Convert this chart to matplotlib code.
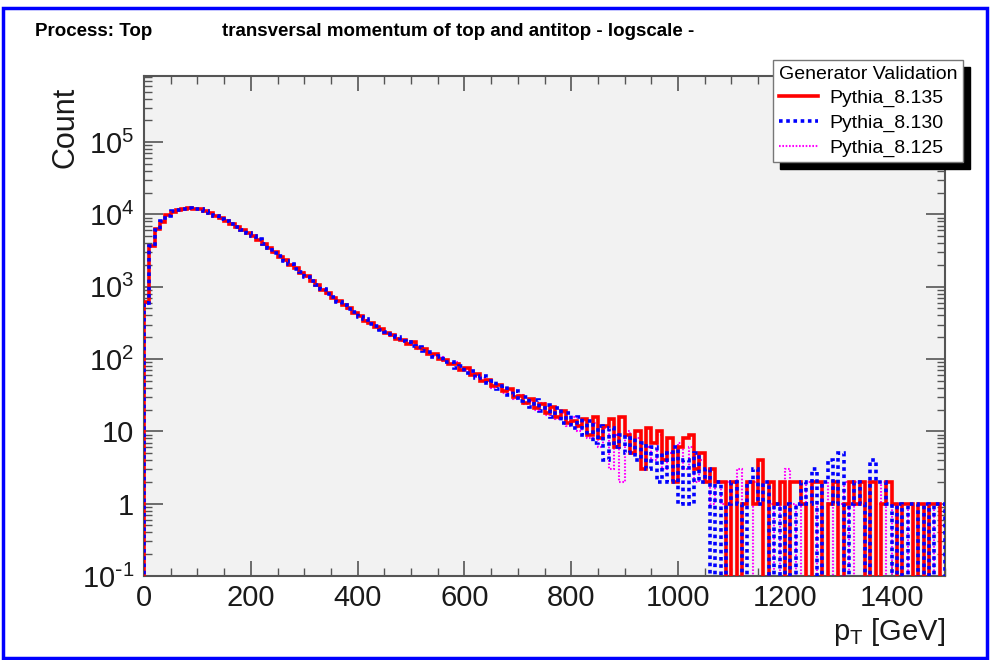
import numpy as np
import matplotlib
matplotlib.use("Agg")
import matplotlib.pyplot as plt
from matplotlib.patches import Rectangle
from matplotlib.ticker import FixedLocator, MultipleLocator, LogLocator, NullFormatter

plt.rcParams['font.family'] = ['Liberation Sans', 'DejaVu Sans']

# ==== histogram setup ====
pt_min = 0
pt_max = 1500
bin_width = 10
edges = np.arange(pt_min, pt_max + bin_width, bin_width)

labels = ["Pythia_8.135", "Pythia_8.130", "Pythia_8.125"]

# ==== bin contents, 10 GeV bins ====
pythia_8135 = [
    610, 3600, 6200, 7900, 9700, 10900, 11650, 12000, 12150, 11950, 11720, 11180, 10500, 9530,
    8790, 8020, 7420, 6700, 6130, 5520, 5050, 4470, 3930, 3380, 2980, 2580, 2320, 2010,
    1800, 1570, 1390, 1190, 1060, 910, 810, 690, 630, 550, 500, 430, 395, 340,
    318, 276, 262, 228, 214, 192, 186, 163, 170, 140, 136, 118, 116, 100,
    98, 84, 86, 70, 76, 60, 62, 50, 52, 42, 44, 36, 38, 30,
    31, 25, 28, 21, 24, 18, 22, 16, 19, 13, 14, 12, 15, 9,
    16, 8, 12, 15, 6, 16, 9, 5, 10, 3, 11, 7,
    10, 4, 8, 2, 6, 8, 9, 3, 5, 2, 3, 2,
    2, 0, 2, 0, 1, 2, 1, 4, 0, 2, 1, 2, 0, 2,
    2, 1, 0, 2, 2, 0, 1, 2, 0, 1, 2, 1, 2, 0,
    2, 0, 1, 2, 1, 0, 1, 1, 0, 1, 0, 1, 1, 0,
]
pythia_8130 = [
    590, 3650, 6150, 7980, 9620, 11000, 11580, 12050, 12080, 12000, 11680, 11250, 10440, 9580,
    8750, 8080, 7380, 6760, 6090, 5560, 5010, 4510, 3890, 3420, 2940, 2620, 2280, 2050,
    1780, 1600, 1370, 1210, 1040, 930, 790, 710, 615, 565, 485, 445, 380, 352,
    305, 290, 250, 240, 205, 200, 176, 172, 150, 148, 128, 126, 108, 110,
    90, 92, 76, 80, 64, 68, 54, 58, 46, 50, 38, 42, 32, 36,
    26, 30, 22, 27, 19, 23, 16, 21, 13, 18, 11, 16, 9, 14,
    7, 12, 4, 11, 6, 9, 5, 8, 4, 7, 3, 6,
    2, 5, 2, 6, 1, 4, 1, 5, 2, 3, 0, 2,
    0, 1, 2, 1, 0, 2, 3, 1, 2, 0, 1, 0, 1, 0,
    1, 2, 1, 3, 0, 2, 4, 1, 5, 0, 1, 2, 1, 0,
    4, 2, 2, 1, 0, 1, 0, 1, 1, 0, 1, 0, 1, 1,
]
pythia_8125 = [
    580, 3620, 6190, 7920, 9680, 10940, 11630, 11990, 12130, 11940, 11710, 11200, 10490, 9540,
    8760, 8060, 7410, 6720, 6120, 5530, 5040, 4480, 3920, 3400, 2950, 2610, 2290, 2040,
    1790, 1580, 1380, 1200, 1055, 915, 800, 705, 620, 550, 495, 435, 392, 342,
    315, 280, 258, 230, 210, 198, 178, 168, 156, 138, 134, 120, 110, 106,
    94, 86, 90, 72, 70, 64, 56, 54, 48, 40, 44, 34, 36, 28,
    32, 24, 26, 20, 25, 17, 20, 15, 18, 12, 16, 10, 14, 8,
    13, 6, 11, 3, 9, 2, 10, 5, 8, 3, 6, 4,
    9, 3, 5, 2, 7, 3, 6, 2, 4, 3, 1, 2,
    1, 2, 0, 3, 0, 0, 2, 1, 2, 1, 0, 2, 3, 1,
    0, 1, 2, 0, 1, 2, 1, 0, 1, 2, 0, 2, 1, 2,
    0, 1, 2, 0, 1, 1, 0, 1, 0, 1, 1, 0, 1, 1,
]

y_ticks = [0.1, 1, 10, 100, 1000, 1e4, 1e5]
y_ticklabels = [r'$\mathregular{10^{\text{-}1}}$', '1', '10', r'$\mathregular{10^{2}}$',
                r'$\mathregular{10^{3}}$', r'$\mathregular{10^{4}}$', r'$\mathregular{10^{5}}$']

# ==== figure ====
fig = plt.figure(figsize=(9.9, 6.6), dpi=100)
ax = fig.add_axes([0.1455, 0.1273, 0.8091, 0.7576])
ax.set_facecolor('#f2f2f2')

h_red = ax.stairs(pythia_8135, edges, color='#ff0000', lw=2.6, zorder=3, label=labels[0])
h_blue = ax.stairs(pythia_8130, edges, color='#0000ff', lw=2.6, linestyle=(0, (1, 1)), zorder=4, label=labels[1])
h_mag = ax.stairs(pythia_8125, edges, color='#ff00ff', lw=1.5, linestyle=(0, (0.8, 0.8)), zorder=2, label=labels[2])

ax.set_yscale('log')
ax.set_xlim(pt_min, pt_max)
ax.set_ylim(0.1, 8.2e5)

ax.xaxis.set_major_locator(MultipleLocator(200))
ax.xaxis.set_minor_locator(MultipleLocator(50))
ax.yaxis.set_major_locator(FixedLocator(y_ticks))
ax.set_yticklabels(y_ticklabels)
ax.yaxis.set_minor_locator(LogLocator(base=10, subs=np.arange(2, 10)))
ax.yaxis.set_minor_formatter(NullFormatter())

ax.tick_params(which='both', direction='in', top=True, right=True, colors='#555555',
               labelcolor='#1a1a1a', labelsize=21)
ax.tick_params(which='major', length=11, width=1.2)
ax.tick_params(which='minor', length=6, width=1.0)
ax.tick_params(axis='y', which='major', length=14, pad=7)
ax.tick_params(axis='x', pad=6)
for s in ax.spines.values():
    s.set_color('#555555')
    s.set_linewidth(1.5)

# axis titles, ROOT style
fig.text(0.066, 1 - 87 / 660, 'Count', rotation=90, va='top', ha='center', fontsize=22, color='#1a1a1a')
fig.text(945 / 990, 1 - 632 / 660, r'p$_{\mathregular{T}}$ [GeV]', ha='right', va='center', fontsize=21, color='#1a1a1a')

fig.text(35 / 990, 1 - 32 / 660, 'Process: Top', fontsize=13.5, fontweight='bold', va='center')
fig.text(222 / 990, 1 - 32 / 660, 'transversal momentum of top and antitop - logscale -',
         fontsize=13.5, fontweight='bold', va='center')

leg = ax.legend(handles=[h_red, h_blue, h_mag], title='Generator Validation',
                loc='upper left', bbox_to_anchor=(773 / 990, 1 - 60 / 660), bbox_transform=fig.transFigure,
                fontsize=14, title_fontsize=14, alignment='left', fancybox=False, framealpha=1,
                edgecolor='#777777', borderpad=0.3, labelspacing=0.35, handlelength=2.0,
                handletextpad=0.6, borderaxespad=0,
                shadow={'ox': 5, 'oy': -5, 'facecolor': 'black', 'edgecolor': 'black', 'alpha': 1})
leg.set_zorder(10)

# blue frame around the canvas
fig.patches.append(Rectangle((0.003, 0.003), 0.994, 0.985, transform=fig.transFigure,
                             fill=False, edgecolor='#0000ff', lw=2.5))

fig.savefig('out.png', dpi=100)
